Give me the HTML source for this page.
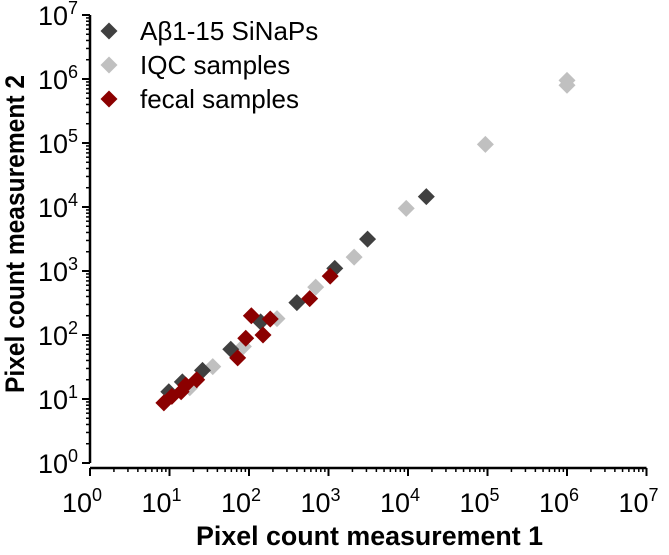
<!DOCTYPE html>
<html><head><meta charset="utf-8"><style>
html,body{margin:0;padding:0;background:#fff;}
svg{display:block;font-family:"Liberation Sans",Arial,sans-serif;}
</style></head><body>
<svg id="chart" width="669" height="555" viewBox="0 0 669 555" xmlns="http://www.w3.org/2000/svg">
<g id="axes"></g>
<g id="points"></g>
<g id="legend"></g>
<text x="196" y="545" font-size="27" font-weight="bold" textLength="347" lengthAdjust="spacingAndGlyphs">Pixel count measurement 1</text>
<text x="0" y="0" font-size="27" font-weight="bold" textLength="318" lengthAdjust="spacingAndGlyphs" transform="translate(24,393) rotate(-90)">Pixel count measurement 2</text>
</svg>
<script>
const seriesNames = ["Aβ1-15 SiNaPs", "IQC samples", "fecal samples"];
const seriesColors = ["#404040", "#c0c0c0", "#8b0000"];
const sinapsX = [3100, 1200, 400, 140, 59, 26, 14.5, 9.8, 17000];
const sinapsY = [3150, 1100, 320, 160, 60, 28, 18.5, 13, 14500];
const iqcX = [2100, 690, 225, 85, 35, 18, 9500, 94000, 1000000, 1000000];
const iqcY = [1650, 560, 180, 66, 32, 15, 9500, 95000, 950000, 800000];
const fecalX = [1050, 580, 185, 107, 150, 91, 72, 22, 16, 14, 10.7, 8.5];
const fecalY = [830, 370, 178, 200, 100, 89, 44, 20, 16.5, 13, 11, 8.7];
const tickExps = [0,1,2,3,4,5,6,7];

const NS="http://www.w3.org/2000/svg";
const X0=90, XDEC=79.5, Y0=463, YDEC=64, XAXY=468;
function xs(v){return X0+Math.log10(v)*XDEC;}
function ys(v){return Y0-Math.log10(v)*YDEC;}
function mk(tag,attrs,parent){const e=document.createElementNS(NS,tag);for(const k in attrs)e.setAttribute(k,attrs[k]);parent.appendChild(e);return e;}
const axes=document.getElementById('axes');
const yl=mk('line',{x1:X0,y1:ys(1e7),x2:X0,y2:ys(1),stroke:'#000','stroke-width':2.5},axes);


const xl=mk('line',{x1:X0,y1:XAXY,x2:xs(1e7),y2:XAXY,stroke:'#000','stroke-width':2.5},axes);


for(let d=0;d<7;d++){
  for(let m=2;m<=9;m++){
    const v=Math.pow(10,d)*m;
    const t1=mk('line',{x1:X0,y1:ys(v),x2:X0-4,y2:ys(v),stroke:'#000','stroke-width':1.5},axes);
    
    
    const t2=mk('line',{x1:xs(v),y1:XAXY,x2:xs(v),y2:XAXY+4,stroke:'#000','stroke-width':1.5},axes);
    
    
  }
}
tickExps.forEach(e=>{
  const v=Math.pow(10,e);
  const t1=mk('line',{x1:X0,y1:ys(v),x2:X0-8,y2:ys(v),stroke:'#000','stroke-width':2},axes);
  
  
  const t2=mk('line',{x1:xs(v),y1:XAXY,x2:xs(v),y2:XAXY+8,stroke:'#000','stroke-width':2},axes);
  
  
  const yt=mk('text',{x:X0-12,y:ys(v)+10,'text-anchor':'end','font-size':27},axes);
  
  
  yt.innerHTML='10';
  const ys1=mk('tspan',{dy:-11,'font-size':18},yt);ys1.textContent=String(e);
  const xt=mk('text',{x:xs(v)-8,y:XAXY+44,'text-anchor':'middle','font-size':27},axes);
  
  
  xt.innerHTML='10';
  const xs1=mk('tspan',{dy:-11,'font-size':18},xt);xs1.textContent=String(e);
});
const pts=document.getElementById('points');
function diamond(cx,cy,r,color,parent){
  return mk('polygon',{points:`${cx},${cy-r} ${cx+r},${cy} ${cx},${cy+r} ${cx-r},${cy}`,fill:color},parent);
}
[[iqcX,iqcY,1],[sinapsX,sinapsY,0],[fecalX,fecalY,2]].forEach(([X,Y,s])=>{
  X.forEach((x,i)=>{
    const p=diamond(xs(x),ys(Y[i]),8.5,seriesColors[s],pts);
    
    
  });
});
const lg=document.getElementById('legend');
seriesNames.forEach((n,i)=>{
  const cy=31+i*34;
  const d=diamond(109,cy,8.5,seriesColors[i],lg);
  
  
  const t=mk('text',{x:140,y:cy+9,'font-size':26},lg);
  
  
  t.textContent=n;
});
</script>
</body></html>
